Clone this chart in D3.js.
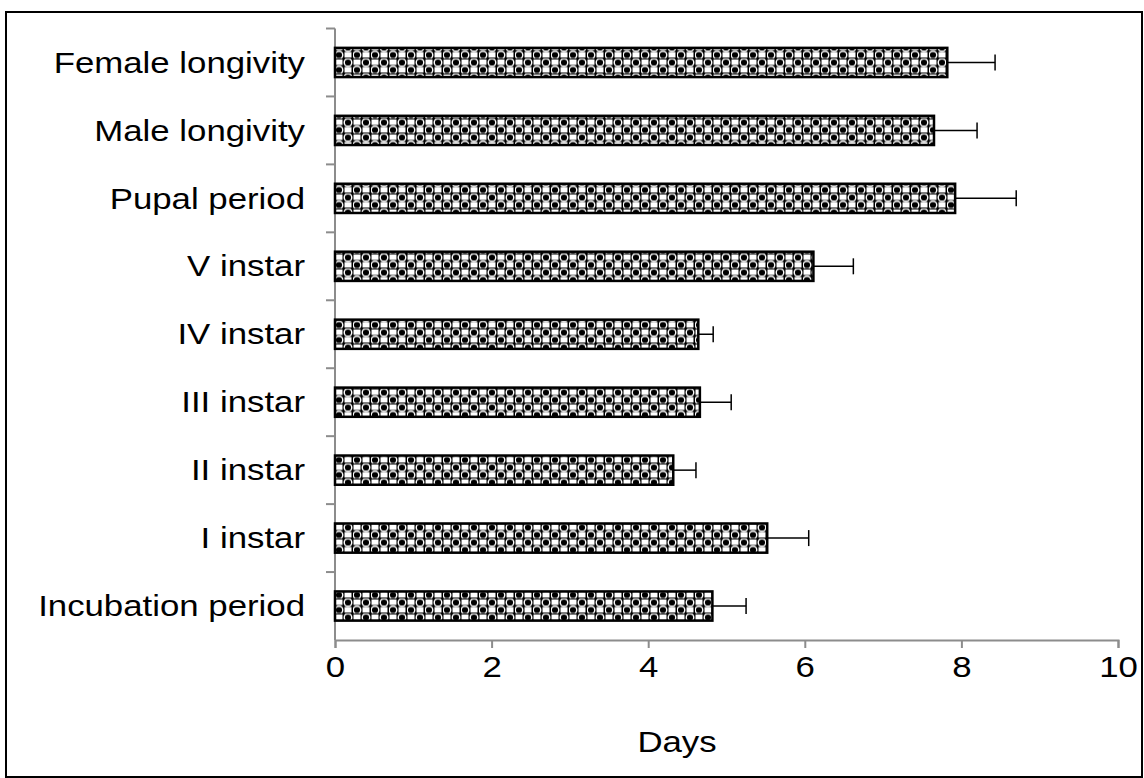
<!DOCTYPE html>
<html>
<head>
<meta charset="utf-8">
<script src="https://cdn.jsdelivr.net/npm/d3@7"></script>
<style>
  body { margin: 0; background: #fff; }
  svg text { font-family: "Liberation Sans", Arial, sans-serif; fill: #000; }
</style>
</head>
<body>
<div id="chart"></div>
<script>
// data (listed top to bottom)
const categories = ["Female longivity", "Male longivity", "Pupal period", "V instar",
  "IV instar", "III instar", "II instar", "I instar", "Incubation period"];
const means = [7.82, 7.65, 7.92, 6.11, 4.64, 4.66, 4.32, 5.52, 4.82];
const errors = [0.61, 0.55, 0.78, 0.51, 0.19, 0.40, 0.29, 0.53, 0.43];
const xTicks = [0, 2, 4, 6, 8, 10];

const W = 1144, H = 778;
const margin = { top: 28.5, left: 335, right: 26, bottom: 138 };
const width = W - margin.left - margin.right,
  height = H - margin.top - margin.bottom;
const stretch = 1.2; // text in the original is drawn wide
const fs = "29px";

const root = d3.select("#chart").append("svg")
  .attr("width", W)
  .attr("height", H);

// outer frame
root.append("rect")
  .attr("x", 6).attr("y", 12)
  .attr("width", 1136).attr("height", 765)
  .attr("fill", "none")
  .attr("stroke", "#000")
  .attr("stroke-width", 2);

// bubble / checker fill pattern
const defs = root.append("defs");
const pat = defs.append("pattern")
  .attr("id", "bubbles")
  .attr("patternUnits", "userSpaceOnUse")
  .attr("width", 18).attr("height", 15);
pat.append("rect").attr("width", 18).attr("height", 15).attr("fill", "#000");
pat.append("rect").attr("x", 0.5).attr("y", 1).attr("width", 7).attr("height", 5.5).attr("fill", "#fff");
pat.append("rect").attr("x", 9.5).attr("y", 8.5).attr("width", 7).attr("height", 5.5).attr("fill", "#fff");
pat.append("circle").attr("cx", 13).attr("cy", 4).attr("r", 3.8)
  .attr("fill", "none").attr("stroke", "#fff").attr("stroke-width", 1.4);
pat.append("circle").attr("cx", 4).attr("cy", 11.5).attr("r", 3.8)
  .attr("fill", "none").attr("stroke", "#fff").attr("stroke-width", 1.4);

const svg = root.append("g")
  .attr("transform", `translate(${margin.left}, ${margin.top})`);

const x = d3.scaleLinear().domain([0, 10]).range([0, width]);
const y = d3.scaleBand().domain(categories).range([0, height]).paddingInner(0.57).paddingOuter(0.285);

// x axis
const xAxis = svg.append("g")
  .attr("transform", `translate(0, ${height})`)
  .call(d3.axisBottom(x).tickValues(xTicks).tickSize(8).tickPadding(8).tickFormat(d3.format("d")));
xAxis.select(".domain").attr("stroke", "#8c8c8c").attr("stroke-width", 2);
xAxis.selectAll(".tick line").attr("stroke", "#8c8c8c").attr("stroke-width", 2);
xAxis.selectAll(".tick text")
  .style("font-size", fs)
  .attr("fill", "#000")
  .attr("transform", `scale(${stretch},1)`);

// y axis: ticks sit between the categories
const yAxisG = svg.append("g");
yAxisG.append("line")
  .attr("x1", 0).attr("x2", 0)
  .attr("y1", 0).attr("y2", height)
  .attr("stroke", "#8c8c8c").attr("stroke-width", 2);
const step = y.step();
yAxisG.selectAll(".ytick")
  .data(d3.range(categories.length))
  .join("line")
  .attr("class", "ytick")
  .attr("x1", -9).attr("x2", 0)
  .attr("y1", i => i * step).attr("y2", i => i * step)
  .attr("stroke", "#8c8c8c").attr("stroke-width", 2);
yAxisG.selectAll(".ylab")
  .data(categories)
  .join("text")
  .attr("class", "ylab")
  .attr("transform", d => `translate(-30, ${y(d) + y.bandwidth() / 2}) scale(${stretch},1)`)
  .attr("dy", "0.35em")
  .attr("text-anchor", "end")
  .style("font-size", fs)
  .text(d => d);

// bars
svg.selectAll(".bar")
  .data(categories)
  .join("rect")
  .attr("class", "bar")
  .attr("x", x(0))
  .attr("y", d => y(d))
  .attr("width", (d, i) => x(means[i]) - x(0))
  .attr("height", y.bandwidth())
  .attr("fill", "url(#bubbles)")
  .attr("stroke", "#000")
  .attr("stroke-width", 2.5);

// error bars (plus side only)
const eb = svg.selectAll(".err")
  .data(categories)
  .join("g")
  .attr("class", "err");
eb.append("line")
  .attr("x1", (d, i) => x(means[i]))
  .attr("x2", (d, i) => x(means[i] + errors[i]))
  .attr("y1", d => y(d) + y.bandwidth() / 2)
  .attr("y2", d => y(d) + y.bandwidth() / 2)
  .attr("stroke", "#000").attr("stroke-width", 1.5);
eb.append("line")
  .attr("x1", (d, i) => x(means[i] + errors[i]))
  .attr("x2", (d, i) => x(means[i] + errors[i]))
  .attr("y1", d => y(d) + y.bandwidth() / 2 - 8)
  .attr("y2", d => y(d) + y.bandwidth() / 2 + 8)
  .attr("stroke", "#000").attr("stroke-width", 1.5);

// axis title
root.append("text")
  .attr("transform", `translate(677, 752) scale(${stretch},1)`)
  .attr("text-anchor", "middle")
  .style("font-size", fs)
  .text("Days");
</script>
</body>
</html>
